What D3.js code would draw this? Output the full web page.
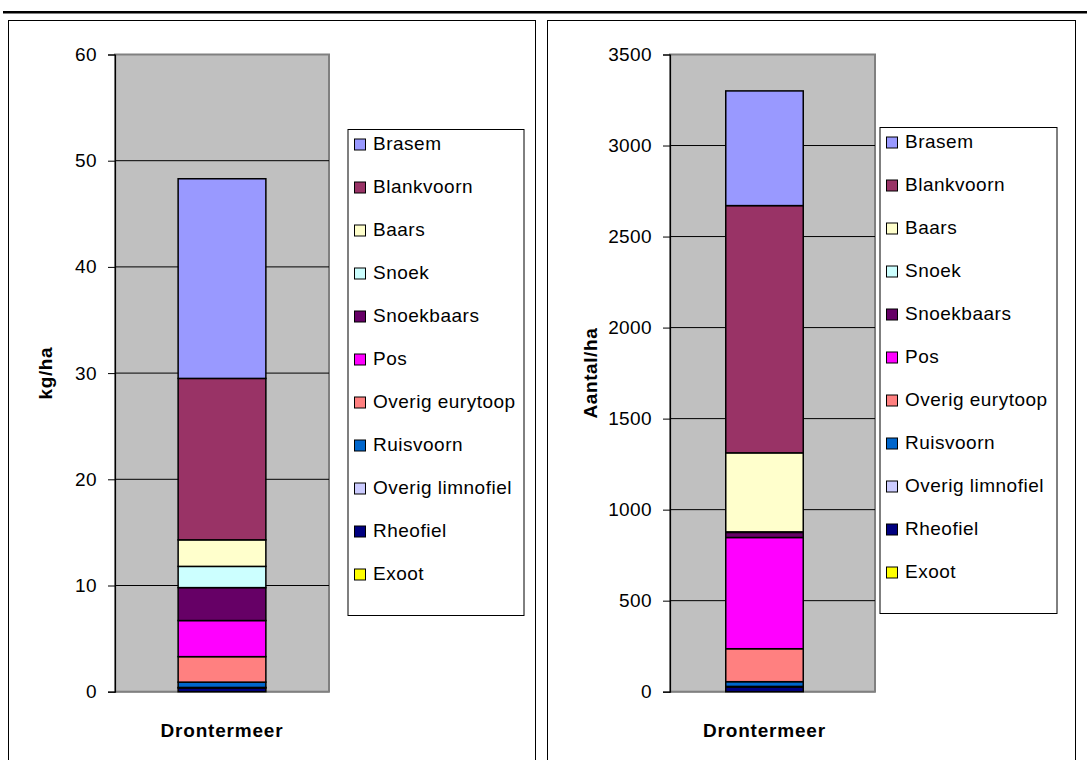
<!DOCTYPE html>
<html>
<head>
<meta charset="utf-8">
<script src="https://cdn.jsdelivr.net/npm/d3@7"></script>
<style>
  html, body { margin: 0; padding: 0; background: #fff; }
  svg { display: block; }
  text { font-family: "Liberation Sans", Arial, sans-serif; fill: #000; }
</style>
</head>
<body>
<svg id="chart" width="1087" height="760"></svg>
<script>
// Fish stock of the Drontermeer, per species group (stacked from the bottom up)
const category = ["Drontermeer"];
const species = ["Exoot", "Rheofiel", "Overig limnofiel", "Ruisvoorn", "Overig eurytoop",
                 "Pos", "Snoekbaars", "Snoek", "Baars", "Blankvoorn", "Brasem"];
const speciesColors = ["#ffff00", "#000080", "#ccccff", "#0066cc", "#ff8080",
                       "#ff00ff", "#660066", "#ccffff", "#ffffcc", "#993366", "#9999ff"];
// biomass in kg/ha
const biomassKgHa = [0, 0.35, 0.05, 0.5, 2.4, 3.4, 3.1, 2.0, 2.5, 15.2, 18.8];
// numbers per ha
const countPerHa = [0, 25, 4, 26, 181, 611, 28, 3, 434, 1358, 630];
const biomassTicks = [0, 10, 20, 30, 40, 50, 60];
const countTicks = [0, 500, 1000, 1500, 2000, 2500, 3000, 3500];

const svg = d3.select("#chart");
const FONT = 19;

// header rule
svg.append("rect").attr("x", 3).attr("y", 11).attr("width", 1084).attr("height", 2.5).attr("fill", "#000");

const panels = [
  { frame: [8.5, 20.5, 527, 760], plot: [115, 54.5, 329, 691.7], bandRange: [115, 329],
    legend: [348, 129.5, 176, 486], values: biomassKgHa, ticks: biomassTicks, label: "kg/ha", labelX: 45 },
  { frame: [547.5, 20.5, 528, 760], plot: [670, 54.5, 875, 691.7], bandRange: [670, 859],
    legend: [880, 127.5, 177, 486], values: countPerHa, ticks: countTicks, label: "Aantal/ha", labelX: 590 }
];

panels.forEach(p => {
  const g = svg.append("g");
  const [fx, fy, fw, fh] = p.frame;
  g.append("rect").attr("x", fx).attr("y", fy).attr("width", fw).attr("height", fh)
    .attr("fill", "#fff").attr("stroke", "#000").attr("stroke-width", 1);

  const [x0, y0, x1, y1] = p.plot;
  const y = d3.scaleLinear().domain([0, d3.max(p.ticks)]).range([y1, y0]);
  const x = d3.scaleBand().domain(category).range(p.bandRange).paddingInner(0.59).paddingOuter(0.295);

  // plot area
  g.append("rect").attr("x", x0).attr("y", y0).attr("width", x1 - x0).attr("height", y1 - y0)
    .attr("fill", "#c0c0c0").attr("stroke", "#808080").attr("stroke-width", 2);

  // gridlines
  g.append("g").selectAll("line").data(p.ticks.filter(t => t > 0 && t < d3.max(p.ticks))).join("line")
    .attr("x1", x0).attr("x2", x1).attr("y1", d => y(d)).attr("y2", d => y(d))
    .attr("stroke", "#000").attr("stroke-width", 1);

  // bottom line
  g.append("line").attr("x1", x0).attr("x2", x1).attr("y1", y1).attr("y2", y1)
    .attr("stroke", "#808080").attr("stroke-width", 1.5);

  // y axis
  const axis = g.append("g").attr("transform", `translate(${x0},0)`)
    .call(d3.axisLeft(y).tickValues(p.ticks).tickSize(7).tickPadding(11).tickFormat(d3.format("d")));
  axis.select(".domain").attr("stroke", "#000").attr("stroke-width", 1.2);
  axis.selectAll(".tick line").attr("stroke", "#000");
  axis.selectAll(".tick text").attr("font-size", FONT).attr("letter-spacing", 0.4)
    .attr("font-family", "Liberation Sans, Arial, sans-serif").attr("fill", "#000");

  // stacked bar
  const row = { cat: category[0] };
  species.forEach((s, i) => row[s] = p.values[i]);
  const stacked = d3.stack().keys(species)([row]);
  g.append("g").selectAll("rect").data(stacked).join("rect")
    .attr("x", x(category[0])).attr("width", x.bandwidth())
    .attr("y", d => y(d[0][1])).attr("height", d => y(d[0][0]) - y(d[0][1]))
    .attr("fill", (d, i) => speciesColors[i])
    .attr("stroke", "#000").attr("stroke-width", 1.5);

  // category label
  g.append("text").attr("x", x(category[0]) + x.bandwidth() / 2).attr("y", 737)
    .attr("text-anchor", "middle").attr("font-size", FONT).attr("font-weight", "bold")
    .attr("letter-spacing", 0.8).text(category[0]);

  // value axis title
  g.append("text").attr("transform", `translate(${p.labelX + 7},${(y0 + y1) / 2}) rotate(-90)`)
    .attr("text-anchor", "middle").attr("font-size", FONT).attr("font-weight", "bold")
    .attr("letter-spacing", 0.6).text(p.label);

  // legend
  const [lx, ly, lw, lh] = p.legend;
  g.append("rect").attr("x", lx).attr("y", ly).attr("width", lw).attr("height", lh)
    .attr("fill", "#fff").attr("stroke", "#000").attr("stroke-width", 1);
  const order = species.map((s, i) => i).reverse();
  const items = g.append("g").selectAll("g").data(order).join("g")
    .attr("transform", (d, k) => `translate(${lx + 6},${ly + 20 + k * 43})`);
  items.append("rect").attr("x", 0.5).attr("y", -10.5).attr("width", 11).attr("height", 11)
    .attr("fill", d => speciesColors[d]).attr("stroke", "#000").attr("stroke-width", 1);
  items.append("text").attr("x", 19).attr("y", 0).attr("font-size", FONT)
    .attr("letter-spacing", 0.5).text(d => species[d]);
});
</script>
</body>
</html>
